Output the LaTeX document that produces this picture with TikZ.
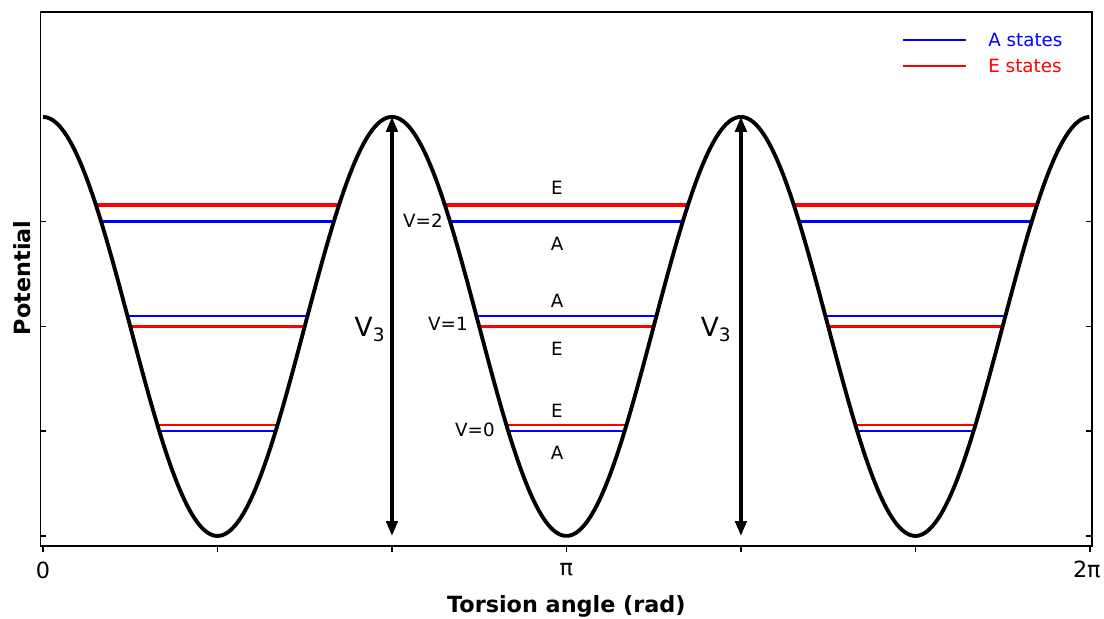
\documentclass[tikz,border=0pt]{standalone}
\usepackage{fontspec}
\setmainfont{DejaVu Sans}
\usepackage{xcolor}
\definecolor{aBlue}{HTML}{0000FF}
\definecolor{eRed}{HTML}{FF0000}
\definecolor{curveBlack}{HTML}{000000}
\usetikzlibrary{
    arrows.meta,
    calc
}
\tikzset{
    % Frame round the plot
    plot frame/.style={
        line width=1.1pt,
        draw=black,
    },
    % Small ticks on the axes
    axis tick/.style={
        line width=0.9pt,
        draw=black,
    },
    % The torsional potential
    potential/.style={
        line width=2.2pt,
        draw=curveBlack,
        smooth,
        line join=round,
    },
    % A and E levels
    a level/.style={
        draw=aBlue,
    },
    e level/.style={
        draw=eRed,
    },
    % Barrier height arrows
    barrier/.style={
        {Triangle[length=8.5pt, width=6.5pt]}-{Triangle[length=8.5pt, width=6.5pt]},
        line width=1.9pt,
    },
    % Text styles
    state label/.style={
        font=\fontsize{10.4}{12}\selectfont,
        inner sep=0pt,
    },
    tick label/.style={
        font=\fontsize{12.7}{14}\selectfont,
        inner sep=0pt,
    },
    axis title/.style={
        font=\fontsize{12.7}{15}\selectfont\bfseries,
        inner sep=0pt,
    },
    barrier label/.style={
        font=\fontsize{15}{18}\selectfont,
        inner sep=0pt,
    },
}

\begin{document}
\begin{tikzpicture}[x=3.332cm, y=8.38cm]
    \useasboundingbox (-0.258,-0.198) rectangle (6.368,1.279);

    % energy levels, cut at the walls of each well
    \foreach \p/\lvl/\w in {0.250/a level/1.3pt, 0.265/e level/1.3pt,
                            0.525/a level/1.3pt, 0.500/e level/1.3pt,
                            0.750/a level/1.9pt, 0.790/e level/1.9pt} {
        \pgfmathsetmacro{\d}{(180-acos(2*\p-1))/3*pi/180}
        \foreach \c in {1,3,5} {
            \draw [\lvl, line width=\w] ({\c*pi/3-\d},\p) -- ({\c*pi/3+\d},\p);
        }
    }

    % potential curve
    \draw [potential] plot [domain=0:2*pi, samples=240] (\x, {(1+cos(3*\x r))/2});

    % frame and ticks
    \draw [plot frame] (-0.015,-0.025) rectangle (6.297,1.2506);
    \foreach \k in {0,...,6} {
        \draw [axis tick] ({\k*pi/3},-0.025) -- ({\k*pi/3},-0.039);
    }
    \foreach \v in {0,0.25,0.5,0.75} {
        \draw [axis tick] (-0.015,\v) -- (0.021,\v);
        \draw [axis tick] (6.297,\v) -- (6.261,\v);
    }

    % barrier arrows
    \coordinate (top1) at ({2*pi/3},1);
    \coordinate (bot1) at ({2*pi/3},0);
    \coordinate (top2) at ({4*pi/3},1);
    \coordinate (bot2) at ({4*pi/3},0);
    \draw [barrier] (top1) -- (bot1);
    \draw [barrier] (top2) -- (bot2);
    \node (v3a) [barrier label] at (1.963,0.492) {V\textsubscript{3}};
    \node (v3b) [barrier label] at (4.040,0.492) {V\textsubscript{3}};

    % level labels in the middle well
    \node (e2) [state label] at (3.085,0.8305) {E};
    \node (a2) [state label] at (3.085,0.697) {A};
    \node (a1) [state label] at (3.085,0.561) {A};
    \node (e1) [state label] at (3.085,0.446) {E};
    \node (e0) [state label] at (3.085,0.298) {E};
    \node (a0) [state label] at (3.085,0.198) {A};
    \node (n2) [state label, anchor=east] at (2.401,0.752) {V=2};
    \node (n1) [state label, anchor=east] at (2.551,0.506) {V=1};
    \node (n0) [state label, anchor=east] at (2.713,0.253) {V=0};

    % legend
    \draw [a level, line width=0.9pt] (5.162,1.1838) -- (5.540,1.1838);
    \draw [e level, line width=0.9pt] (5.162,1.1217) -- (5.540,1.1217);
    \node (leg a) [state label, anchor=west, text=aBlue] at (5.672,1.1838) {A states};
    \node (leg e) [state label, anchor=west, text=eRed] at (5.672,1.1217) {E states};

    % axis labels
    \node (t0) [tick label] at (0,-0.081) {0};
    \node (t1) [tick label] at (pi,-0.081) {π};
    \node (t2) [tick label] at (6.265,-0.081) {2π};
    \node (xlab) [axis title] at (pi,-0.167) {Torsion angle (rad)};
    \node (ylab) [axis title, rotate=90] at (-0.126,0.616) {Potential};
\end{tikzpicture}
\end{document}
